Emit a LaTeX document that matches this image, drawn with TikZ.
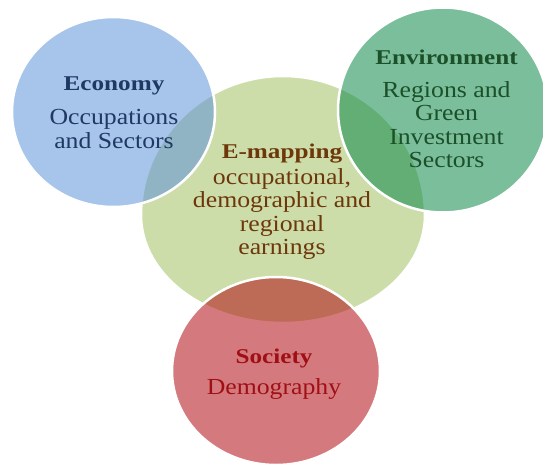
\documentclass[tikz,border=0pt]{standalone}
\usepackage{fontspec}
\setmainfont{Liberation Serif}
\newfontfamily\headfont{Liberation Serif}[FakeStretch=1.2]
\newfontfamily\bodyfont{Liberation Serif}[FakeStretch=1.12]
\usetikzlibrary{shapes.geometric,positioning}
\definecolor{econfill}{RGB}{95,148,217}
\definecolor{envfill}{RGB}{13,137,73}
\definecolor{socfill}{RGB}{177,13,20}
\definecolor{mapfill}{RGB}{205,221,170}
\definecolor{econtext}{RGB}{31,56,100}
\definecolor{envtext}{RGB}{28,80,40}
\definecolor{maptext}{RGB}{110,55,10}
\definecolor{soctext}{RGB}{160,15,20}
\newcommand{\headline}[1]{{\headfont\bfseries\fontsize{21}{21}\selectfont #1}}

\begin{document}
\begin{tikzpicture}[x=1pt,y=-1pt,
			bubble/.style={ellipse,draw=white,line width=2.5pt,fill opacity=.55,inner sep=0pt},
			blurb/.style={align=center,inner sep=0pt,font=\bodyfont\fontsize{23}{23.5}\selectfont}]
			\useasboundingbox (0,0) rectangle (543,466);
			\coordinate (map) at (283,215);
			\fill[mapfill,draw=white,line width=2.5pt] (map) ++(142,0)
				arc[start angle=0,end angle=180,x radius=142,y radius=108]
				arc[start angle=180,end angle=360,x radius=142,y radius=139];
			\node (econ) [bubble,fill=econfill,minimum width=203pt,minimum height=190pt] at (113.5,112) {};
			\node (env) [bubble,fill=envfill,minimum width=210pt,minimum height=205pt] at (443,110) {};
			\node (soc) [bubble,fill=socfill,minimum width=208pt,minimum height=188pt] at (276,371) {};
			\node (econtxt) [blurb,text=econtext] at (114,112.5)
				{\headline{Economy}\\[11pt]Occupations\\and Sectors};
			\node (envtxt) [blurb,text=envtext] at (446.5,109)
				{\headline{Environment}\\[9pt]Regions and\\Green\\Investment\\Sectors};
			\node (maptxt) [blurb,text=maptext] at (282,202)
				{\headline{E-mapping}\\[2pt]occupational,\\demographic and\\regional\\earnings};
			\node (soctxt) [blurb,text=soctext] at (274,374)
				{\headline{Society}\\[8pt]Demography};
		\end{tikzpicture}
\end{document}
